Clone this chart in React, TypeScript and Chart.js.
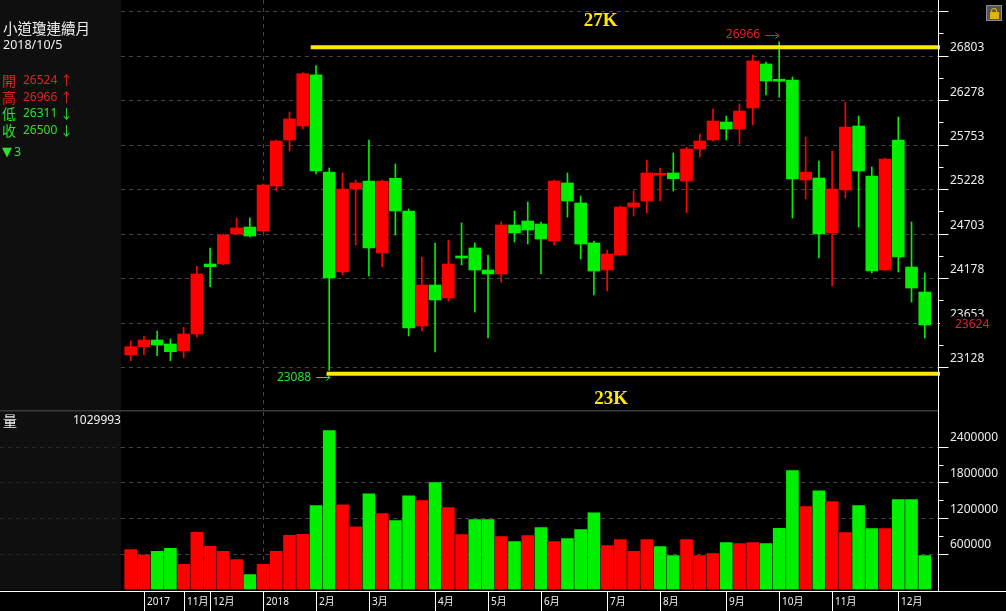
import React, { useEffect, useRef } from "react";
import { Chart, registerables } from "chart.js";

Chart.register(...registerables);

// ---- Weekly OHLC data (小道瓊連續月) ----
const opens = [
  23270, 23368, 23447, 23400, 23321, 23518, 24344, 24344, 24698, 24780,
  24733, 25264, 25807, 25972, 26577, 25429, 24249, 25229, 25323, 24474,
  25355, 24969, 23612, 24096, 23943, 24438, 24533, 24273, 24226, 24804,
  24851, 24816, 24615, 25300, 25064, 24592, 24273, 24450, 25016, 25087,
  25391, 25418, 25323, 25701, 25807, 26019, 25937, 26185, 26704, 26524,
  26515, 25335, 25359, 24710, 25217, 25972, 25382, 24273, 25807, 24308,
  24013,
];
const highs = [
  23435, 23494, 23553, 23459, 23597, 24317, 24533, 24698, 24887, 24887,
  25288, 25807, 26137, 26601, 26684, 25477, 25418, 25335, 25807, 25335,
  25524, 24993, 24426, 24592, 24627, 24828, 24592, 24450, 24839, 24969,
  25075, 24839, 25335, 25418, 25146, 24615, 24509, 25028, 25205, 25571,
  25477, 25654, 25721, 25878, 26173, 26090, 26232, 26810, 26727, 26966,
  26550, 25842, 25559, 25677, 26255, 26090, 25488, 25595, 26078, 24839,
  24238,
];
const lows = [
  23203, 23270, 23262, 23203, 23238, 23479, 24076, 24332, 24690, 24662,
  24721, 25205, 25677, 25937, 25406, 23088, 24214, 24568, 24202, 24308,
  24686, 23494, 23553, 23306, 23907, 24332, 23777, 23471, 24131, 24603,
  24580, 24226, 24568, 24898, 24403, 23978, 24025, 24438, 24910, 24945,
  25087, 25205, 24949, 25606, 25795, 25807, 25760, 25984, 26338, 26311,
  24887, 25111, 24415, 24084, 25123, 24780, 24238, 24265, 24249, 23895,
  23471,
];
const closes = [
  23368, 23447, 23388, 23309, 23518, 24226, 24312, 24686, 24769, 24674,
  25276, 25795, 26055, 26589, 25441, 24179, 25229, 25300, 24533, 25323,
  24969, 23589, 24096, 23919, 24344, 24415, 24273, 24226, 24804, 24710,
  24745, 24639, 25323, 25087, 24580, 24261, 24462, 25016, 25064, 25418,
  25414, 25350, 25701, 25795, 26031, 25937, 26149, 26739, 26503, 26500,
  25347, 25429, 24698, 25229, 25960, 25441, 24261, 25583, 24426, 24060,
  23624,
];
const volumes = [
  673000, 577000, 640000, 690000, 424000, 962000, 724000, 640000, 504000, 249000,
  424000, 640000, 911000, 928000, 1410000, 2670000, 1425000, 1055000, 1610000, 1275000,
  1160000, 1575000, 1495000, 1795000, 1375000, 925000, 1175000, 1175000, 890000, 805000,
  905000, 1040000, 805000, 855000, 1005000, 1290000, 738000, 840000, 640000, 840000,
  722000, 572000, 840000, 572000, 605000, 790000, 772000, 790000, 772000, 1029993,
  2000000, 1395000, 1660000, 1478000, 958000, 1410000, 1025000, 1025000, 1510000, 1510000,
  572000,
];

// ---- Axis ticks and labels ----
const priceTicks = [23128, 23653, 24178, 24703, 25228, 25753, 26278, 26803, 27328];
const volumeTicks = [600000, 1200000, 1800000, 2400000];
const xTickIndex = [1, 4, 6, 10, 14, 18, 23, 27, 31, 36, 40, 45, 49, 53, 58];
const xTickLabels = ["2017", "11月", "12月", "2018", "2月", "3月", "4月", "5月", "6月", "7月", "8月", "9月", "10月", "11月", "12月"];
const dividerLabels = ["2018"];

// ---- Drawn support / resistance lines ----
const resistanceLevel = 26900;
const supportLevel = 23050;
const resistanceStart = 13.6;
const supportStart = 14.8;
const lineEnd = 61.15;
const resistanceText = "27K";
const supportText = "23K";
const resistanceTextAt = 35.5;
const supportTextAt = 36.3;

// ---- Info panel ----
const infoTitle = "小道瓊連續月";
const infoDate = "2018/10/5";
const infoIndex = 49;

// ---- Styles ----
const RED = "#ff0000";
const GREEN = "#00f000";
const RED_TEXT = "#e02424";
const GREEN_TEXT = "#2ee02e";
const YELLOW = "#ffe800";
const GRID = "#444444";
const GRID_FAINT = "#262626";
const AXIS = "#ffffff";
const LABEL = "#ececec";
const PANEL_BG = "#0f0f0f";
const X_MIN = -0.733;
const X_MAX = 61.0;
const PRICE_MIN = 22621;
const PRICE_MAX = 27459;
const VOL_MAX = 3000000;
const AXIS_FONT = '12px "Noto Sans", "DejaVu Sans", sans-serif';

const candleColors = opens.map((o, i) => (closes[i] >= o ? RED : GREEN));
const volumeColors = closes.map((c, i) =>
  (i === 0 ? c >= opens[0] : c >= closes[i - 1]) ? RED : GREEN
);

function hline(ctx: CanvasRenderingContext2D, x1: number, x2: number, y: number) {
  ctx.beginPath();
  ctx.moveTo(x1, y);
  ctx.lineTo(x2, y);
  ctx.stroke();
}
function vline(ctx: CanvasRenderingContext2D, x: number, y1: number, y2: number) {
  ctx.beginPath();
  ctx.moveTo(x, y1);
  ctx.lineTo(x, y2);
  ctx.stroke();
}
const crisp = (v: number) => Math.round(v) + 0.5;

function arrowLabel(ctx: CanvasRenderingContext2D, text: string, tipX: number, cy: number, color: string) {
  ctx.save();
  ctx.fillStyle = color;
  ctx.strokeStyle = color;
  ctx.lineWidth = 1;
  ctx.font = '12px "Noto Sans", "DejaVu Sans", sans-serif';
  ctx.textAlign = "right";
  ctx.textBaseline = "middle";
  ctx.fillText(text, tipX - 19, cy);
  const yy = Math.round(cy) + 0.5;
  hline(ctx, tipX - 14, tipX, yy);
  ctx.beginPath();
  ctx.moveTo(tipX - 4, yy - 3);
  ctx.lineTo(tipX, yy);
  ctx.lineTo(tipX - 4, yy + 3);
  ctx.stroke();
  ctx.restore();
}

function drawRightAxis(
  chart: any,
  ticks: number[],
  labelOffset: number,
  fromY: number,
  toY: number
) {
  const { ctx, chartArea, scales } = chart;
  const y = scales.y;
  const ax = crisp(chartArea.right);
  ctx.save();
  ctx.setLineDash([]);
  ctx.strokeStyle = AXIS;
  ctx.lineWidth = 1;
  vline(ctx, ax, fromY, toY);
  ticks.forEach((v, i) => {
    const py = crisp(y.getPixelForValue(v));
    hline(ctx, ax, ax + 10, py);
    if (i < ticks.length - 1) {
      const mid = (v + ticks[i + 1]) / 2;
      const pm = crisp(y.getPixelForValue(mid));
      hline(ctx, ax, ax + 5, pm);
    }
  });
  ctx.font = AXIS_FONT;
  ctx.fillStyle = LABEL;
  ctx.textAlign = "left";
  ctx.textBaseline = "middle";
  ticks.forEach((v) => {
    const ly = y.getPixelForValue(v) - labelOffset;
    if (ly >= 8) ctx.fillText(String(v), 950, ly);
  });
  ctx.restore();
}

function dividerIndices(): number[] {
  return xTickIndex.filter((_, i) => dividerLabels.includes(xTickLabels[i]));
}

const pricePlugin = {
  id: "priceDecor",
  beforeDatasetsDraw(chart: any) {
    const { ctx, chartArea, scales } = chart;
    ctx.save();
    ctx.strokeStyle = GRID;
    ctx.lineWidth = 1;
    ctx.setLineDash([4, 4]);
    priceTicks.forEach((v) => {
      hline(ctx, chartArea.left, chartArea.right, crisp(scales.y.getPixelForValue(v)));
    });
    dividerIndices().forEach((idx) => {
      vline(ctx, crisp(scales.x.getPixelForValue(idx)), chartArea.top, chartArea.bottom);
    });
    ctx.restore();
  },
  afterDraw(chart: any) {
    const { ctx, scales } = chart;
    const x = scales.x;
    const y = scales.y;
    // high / low markers
    let hi = 0;
    let lo = 0;
    highs.forEach((h, i) => { if (h > highs[hi]) hi = i; });
    lows.forEach((l, i) => { if (l < lows[lo]) lo = i; });
    arrowLabel(ctx, String(highs[hi]), x.getPixelForValue(hi), y.getPixelForValue(highs[hi]) - 7, RED_TEXT);
    arrowLabel(ctx, String(lows[lo]), x.getPixelForValue(lo) + 1, y.getPixelForValue(lows[lo]) + 7, GREEN_TEXT);
    // level captions
    ctx.save();
    ctx.font = 'bold 19px "Liberation Serif", "DejaVu Serif", serif';
    ctx.fillStyle = YELLOW;
    ctx.textAlign = "center";
    ctx.textBaseline = "middle";
    ctx.fillText(resistanceText, x.getPixelForValue(resistanceTextAt), y.getPixelForValue(resistanceLevel) - 26);
    ctx.fillText(supportText, x.getPixelForValue(supportTextAt), y.getPixelForValue(supportLevel) + 25);
    ctx.restore();
    // right axis
    drawRightAxis(chart, priceTicks, 8, 0, chart.height);
    // last close tag
    const last = closes[closes.length - 1];
    const cy = y.getPixelForValue(last);
    ctx.save();
    ctx.fillStyle = "#000000";
    ctx.fillRect(940, cy - 8.5, 66, 17);
    ctx.font = AXIS_FONT;
    ctx.fillStyle = RED_TEXT;
    ctx.textAlign = "left";
    ctx.textBaseline = "middle";
    ctx.fillText(String(last), 955, cy);
    ctx.restore();
  },
};

const volumePlugin = {
  id: "volumeDecor",
  beforeDatasetsDraw(chart: any) {
    const { ctx, chartArea, scales } = chart;
    ctx.save();
    // panel separator
    ctx.fillStyle = "#3a3a3a";
    ctx.fillRect(0, 0, chartArea.right, 1.5);
    ctx.lineWidth = 1;
    ctx.setLineDash([4, 4]);
    volumeTicks.forEach((v) => {
      const py = crisp(scales.y.getPixelForValue(v));
      ctx.strokeStyle = GRID_FAINT;
      hline(ctx, 0, chartArea.left, py);
      ctx.strokeStyle = GRID;
      hline(ctx, chartArea.left, chartArea.right, py);
    });
    ctx.strokeStyle = GRID;
    dividerIndices().forEach((idx) => {
      vline(ctx, crisp(scales.x.getPixelForValue(idx)), 2, chartArea.bottom);
    });
    ctx.restore();
  },
  afterDraw(chart: any) {
    const { ctx, chartArea, scales } = chart;
    const axisY = crisp(chartArea.bottom + 1);
    drawRightAxis(chart, volumeTicks, 9, 0, axisY);
    ctx.save();
    ctx.strokeStyle = AXIS;
    ctx.lineWidth = 1;
    hline(ctx, 0, chart.width, axisY);
    ctx.font = '10px "Noto Sans", "Noto Sans CJK TC", sans-serif';
    ctx.fillStyle = "#f2f2f2";
    ctx.textAlign = "left";
    ctx.textBaseline = "middle";
    xTickIndex.forEach((idx, i) => {
      const px = crisp(scales.x.getPixelForValue(idx));
      vline(ctx, px, axisY, chart.height);
      ctx.fillText(xTickLabels[i], px + 2.5, axisY + 10.5);
    });
    ctx.restore();
  },
};

const baseOptions = (padding: any, yMin: number, yMax: number) => ({
  animation: false as const,
  responsive: false,
  maintainAspectRatio: false,
  events: [] as any[],
  layout: { padding },
  plugins: { legend: { display: false }, tooltip: { enabled: false } },
  scales: {
    x: { type: "linear" as const, min: X_MIN, max: X_MAX, display: false, offset: false },
    y: { type: "linear" as const, min: yMin, max: yMax, display: false },
  },
});

export default function App() {
  const priceRef = useRef<HTMLCanvasElement>(null);
  const volRef = useRef<HTMLCanvasElement>(null);

  useEffect(() => {
    if (!priceRef.current || !volRef.current) return;
    const priceChart = new Chart(priceRef.current, {
      type: "bar",
      data: {
        datasets: [
          {
            type: "line",
            data: [
              { x: resistanceStart, y: resistanceLevel },
              { x: lineEnd, y: resistanceLevel },
            ],
            borderColor: YELLOW,
            borderWidth: 4,
            pointRadius: 0,
            fill: false,
            clip: false,
            order: 0,
          } as any,
          {
            type: "line",
            data: [
              { x: supportStart, y: supportLevel },
              { x: lineEnd, y: supportLevel },
            ],
            borderColor: YELLOW,
            borderWidth: 4,
            pointRadius: 0,
            fill: false,
            clip: false,
            order: 0,
          } as any,
          {
            type: "bar",
            data: opens.map((o, i) => ({ x: i, y: [o, closes[i]] })),
            backgroundColor: candleColors,
            borderWidth: 0,
            barThickness: 12,
            minBarLength: 2,
            grouped: false,
            order: 1,
          } as any,
          {
            type: "bar",
            data: lows.map((l, i) => ({ x: i, y: [l, highs[i]] })),
            backgroundColor: candleColors,
            borderWidth: 0,
            barThickness: 1,
            grouped: false,
            order: 2,
          } as any,
        ],
      },
      options: baseOptions({ left: 121, right: 68, top: 0, bottom: 0 }, PRICE_MIN, PRICE_MAX) as any,
      plugins: [pricePlugin],
    });

    const volumeChart = new Chart(volRef.current, {
      type: "bar",
      data: {
        datasets: [
          {
            data: volumes.map((v, i) => ({ x: i, y: v })),
            backgroundColor: volumeColors,
            borderWidth: 0,
            barThickness: 12,
            grouped: false,
          } as any,
        ],
      },
      options: baseOptions({ left: 121, right: 68, top: 1, bottom: 21.5 }, 0, VOL_MAX) as any,
      plugins: [volumePlugin],
    });

    return () => {
      priceChart.destroy();
      volumeChart.destroy();
    };
  }, []);

  const prevClose = closes[infoIndex - 1];
  const rows = [
    { name: "開", value: opens[infoIndex] },
    { name: "高", value: highs[infoIndex] },
    { name: "低", value: lows[infoIndex] },
    { name: "收", value: closes[infoIndex] },
  ];
  const change = closes[infoIndex] - prevClose;

  const cjk = '"Noto Sans CJK TC", "Noto Sans CJK SC", sans-serif';
  const latin = '"Noto Sans", "DejaVu Sans", sans-serif';

  return (
    <div
      style={{
        position: "fixed",
        left: 0,
        top: 0,
        width: 1006,
        height: 611,
        background: "#000",
        overflow: "hidden",
        fontFamily: latin,
      }}
    >
      <div style={{ position: "absolute", left: 0, top: 0, width: 121, height: 590, background: PANEL_BG }} />
      <canvas
        ref={priceRef}
        width={1006}
        height={410}
        style={{ position: "absolute", left: 0, top: 0, width: 1006, height: 410 }}
      />
      <canvas
        ref={volRef}
        width={1006}
        height={201}
        style={{ position: "absolute", left: 0, top: 410, width: 1006, height: 201 }}
      />
      <div style={{ position: "absolute", left: 3, top: 19, fontFamily: cjk, fontSize: 14.5, lineHeight: "18px", color: "#f0f0f0", whiteSpace: "nowrap" }}>
        {infoTitle}
      </div>
      <div style={{ position: "absolute", left: 3, top: 37, fontSize: 12.5, lineHeight: "16px", color: "#f0f0f0" }}>
        {infoDate}
      </div>
      {rows.map((r, i) => {
        const up = r.value >= prevClose;
        const color = up ? RED_TEXT : GREEN_TEXT;
        const top = 72 + i * 16.7;
        return (
          <div key={r.name} style={{ position: "absolute", left: 0, top, height: 16, width: 121, color }}>
            <span style={{ position: "absolute", left: 2, top: -1, fontFamily: cjk, fontSize: 14, lineHeight: "18px" }}>{r.name}</span>
            <span style={{ position: "absolute", left: 23, top: 0, fontSize: 12, lineHeight: "16px" }}>{r.value}</span>
            <span style={{ position: "absolute", left: 60, top: -1, fontFamily: cjk, fontSize: 13, lineHeight: "18px" }}>{up ? "↑" : "↓"}</span>
          </div>
        );
      })}
      <div style={{ position: "absolute", left: 2, top: 139, height: 16, color: change < 0 ? GREEN_TEXT : RED_TEXT, whiteSpace: "nowrap" }}>
        <span style={{ fontFamily: '"DejaVu Sans", sans-serif', fontSize: 13, lineHeight: "16px" }}>{change < 0 ? "▼" : "▲"}</span>
        <span style={{ fontSize: 12.5, lineHeight: "16px", marginLeft: 2 }}>{Math.abs(change)}</span>
      </div>
      <div style={{ position: "absolute", left: 3, top: 411, fontFamily: cjk, fontSize: 14, lineHeight: "18px", color: "#f0f0f0" }}>量</div>
      <div style={{ position: "absolute", left: 40, width: 81, textAlign: "right", top: 412, fontSize: 12, lineHeight: "16px", color: "#f0f0f0" }}>
        {volumes[infoIndex]}
      </div>
      <div
        style={{
          position: "absolute",
          left: 986,
          top: 5,
          width: 14,
          height: 14,
          background: "#565656",
          border: "1px solid #8c8c8c",
        }}
      >
        <div style={{ position: "absolute", left: 4, top: 2, width: 4, height: 4, border: "1.5px solid #e0b400", borderBottom: "none", borderRadius: "3px 3px 0 0" }} />
        <div style={{ position: "absolute", left: 3, top: 6, width: 9, height: 7, background: "#e0b400" }} />
      </div>
    </div>
  );
}
